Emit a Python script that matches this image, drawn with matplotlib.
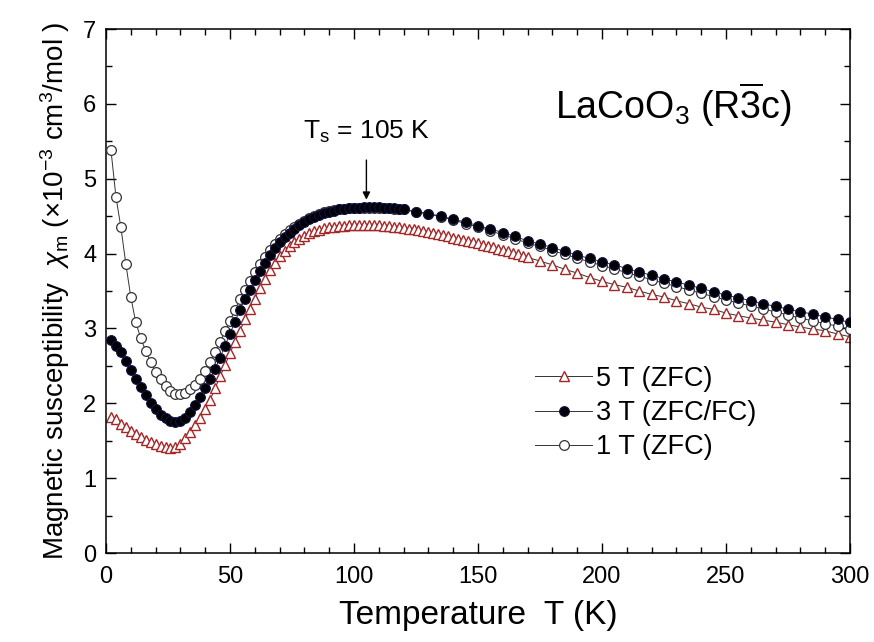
import matplotlib
matplotlib.use("Agg")
import matplotlib.pyplot as plt
from matplotlib.ticker import MultipleLocator

plt.rcParams['font.family'] = ['Liberation Sans', 'DejaVu Sans']
plt.rcParams['mathtext.fontset'] = 'custom'
plt.rcParams['mathtext.rm'] = 'Liberation Sans'
plt.rcParams['mathtext.it'] = 'Liberation Sans:italic'
plt.rcParams['mathtext.bf'] = 'Liberation Sans:bold'

# 5 T (ZFC): dense run up to 170 K, then every 5 K
t_5T = [2, 4, 6, 8, 10, 12, 14, 16, 18, 20, 22, 24, 26, 28, 30, 32, 34, 36, 38, 40,
        42, 44, 46, 48, 50, 52, 54, 56, 58, 60, 62, 64, 66, 68, 70, 72, 74, 76, 78, 80,
        82, 84, 86, 88, 90, 92, 94, 96, 98, 100, 102, 104, 106, 108, 110, 112, 114, 116, 118, 120,
        122, 124, 126, 128, 130, 132, 134, 136, 138, 140, 142, 144, 146, 148, 150, 152, 154, 156, 158, 160,
        162, 164, 166, 168, 170,
        175, 180, 185, 190, 195, 200, 205, 210, 215, 220, 225, 230, 235, 240, 245, 250,
        255, 260, 265, 270, 275, 280, 285, 290, 295, 300]
chi_5T = [1.82, 1.79, 1.72, 1.68, 1.63, 1.59, 1.55, 1.51, 1.48, 1.45, 1.43, 1.41, 1.40, 1.415, 1.46, 1.53, 1.62, 1.71, 1.80, 1.92,
          2.05, 2.20, 2.36, 2.51, 2.67, 2.82, 2.97, 3.12, 3.26, 3.40, 3.54, 3.66, 3.78, 3.88, 3.97, 4.04, 4.10, 4.16, 4.20, 4.24,
          4.27, 4.30, 4.32, 4.34, 4.35, 4.36, 4.37, 4.375, 4.38, 4.38, 4.385, 4.385, 4.385, 4.38, 4.38, 4.375, 4.37, 4.36, 4.355, 4.345,
          4.335, 4.325, 4.315, 4.30, 4.29, 4.275, 4.26, 4.245, 4.23, 4.21, 4.195, 4.18, 4.165, 4.15, 4.135, 4.12, 4.10, 4.085, 4.065, 4.05,
          4.03, 4.01, 3.99, 3.97, 3.95,
          3.90, 3.85, 3.79, 3.74, 3.68, 3.63, 3.585, 3.55, 3.50, 3.455, 3.42, 3.37, 3.33, 3.285, 3.255, 3.205,
          3.17, 3.14, 3.11, 3.085, 3.05, 3.02, 2.99, 2.97, 2.925, 2.89]

# 3 T (ZFC/FC): dense run up to 120 K, then every 5 K
t_3T = [2, 4, 6, 8, 10, 12, 14, 16, 18, 20, 22, 24, 26, 28, 30, 32, 34, 36, 38, 40,
        42, 44, 46, 48, 50, 52, 54, 56, 58, 60, 62, 64, 66, 68, 70, 72, 74, 76, 78, 80,
        82, 84, 86, 88, 90, 92, 94, 96, 98, 100, 102, 104, 106, 108, 110, 112, 114, 116, 118, 120,
        125, 130, 135, 140, 145, 150, 155, 160, 165, 170, 175, 180, 185, 190, 195, 200,
        205, 210, 215, 220, 225, 230, 235, 240, 245, 250, 255, 260, 265, 270, 275, 280,
        285, 290, 295, 300]
chi_3T = [2.85, 2.77, 2.68, 2.57, 2.45, 2.33, 2.22, 2.11, 2.01, 1.92, 1.85, 1.80, 1.76, 1.745, 1.76, 1.81, 1.89, 1.98, 2.09, 2.20,
          2.32, 2.46, 2.61, 2.77, 2.93, 3.09, 3.25, 3.39, 3.52, 3.65, 3.77, 3.88, 3.98, 4.07, 4.15, 4.22, 4.28, 4.33, 4.38, 4.42,
          4.46, 4.49, 4.52, 4.54, 4.56, 4.575, 4.59, 4.60, 4.605, 4.61, 4.615, 4.62, 4.62, 4.62, 4.62, 4.615, 4.61, 4.605, 4.60, 4.595,
          4.56, 4.535, 4.50, 4.46, 4.42, 4.375, 4.33, 4.28, 4.23, 4.17, 4.13, 4.08, 4.03, 3.98, 3.935, 3.89,
          3.85, 3.80, 3.755, 3.71, 3.665, 3.62, 3.58, 3.535, 3.49, 3.445, 3.41, 3.37, 3.33, 3.295, 3.26, 3.225,
          3.19, 3.155, 3.12, 3.08]

# 1 T (ZFC): dense run up to 120 K, then every 5 K
t_1T = [2, 4, 6, 8, 10, 12, 14, 16, 18, 20, 22, 24, 26, 28, 30, 32, 34, 36, 38, 40,
        42, 44, 46, 48, 50, 52, 54, 56, 58, 60, 62, 64, 66, 68, 70, 72, 74, 76, 78, 80,
        82, 84, 86, 88, 90, 92, 94, 96, 98, 100, 102, 104, 106, 108, 110, 112, 114, 116, 118, 120,
        125, 130, 135, 140, 145, 150, 155, 160, 165, 170, 175, 180, 185, 190, 195, 200,
        205, 210, 215, 220, 225, 230, 235, 240, 245, 250, 255, 260, 265, 270, 275, 280,
        285, 290, 295, 300]
chi_1T = [5.38, 4.76, 4.35, 3.86, 3.42, 3.08, 2.87, 2.70, 2.55, 2.42, 2.32, 2.23, 2.17, 2.13, 2.12, 2.14, 2.19, 2.25, 2.33, 2.43,
          2.55, 2.68, 2.82, 2.96, 3.10, 3.25, 3.39, 3.52, 3.64, 3.76, 3.86, 3.96, 4.05, 4.13, 4.20, 4.26, 4.31, 4.36, 4.40, 4.44,
          4.47, 4.50, 4.53, 4.55, 4.57, 4.58, 4.59, 4.60, 4.605, 4.61, 4.61, 4.615, 4.615, 4.615, 4.61, 4.61, 4.605, 4.60, 4.595, 4.59,
          4.555, 4.53, 4.49, 4.45, 4.40, 4.355, 4.305, 4.25, 4.20, 4.14, 4.095, 4.04, 3.99, 3.94, 3.89, 3.84,
          3.795, 3.745, 3.70, 3.65, 3.605, 3.56, 3.515, 3.47, 3.425, 3.38, 3.34, 3.30, 3.26, 3.22, 3.18, 3.14,
          3.10, 3.065, 3.03, 2.99]

fig = plt.figure(figsize=(8.74, 6.42), dpi=100)
ax = fig.add_axes([0.1213, 0.1386, 0.8512, 0.8162])

red = '#a52626'
ax.plot(t_5T, chi_5T, '-', color='#333333', lw=0.7, marker='^', ms=7,
        mfc='white', mec=red, mew=1.0, label='5 T (ZFC)', zorder=2)
ax.plot(t_1T, chi_1T, '-', color='#333333', lw=0.7, marker='o', ms=7,
        mfc='white', mec='#333333', mew=0.9, label='1 T (ZFC)', zorder=3)
ax.plot(t_3T, chi_3T, '-', color='#333333', lw=0.7, marker='o', ms=7,
        mfc='black', mec='#101048', mew=0.8, label='3 T (ZFC/FC)', zorder=4)

ax.set_xlim(0, 300)
ax.set_ylim(0, 7)
ax.xaxis.set_major_locator(MultipleLocator(50))
ax.xaxis.set_minor_locator(MultipleLocator(10))
ax.yaxis.set_major_locator(MultipleLocator(1))
ax.yaxis.set_minor_locator(MultipleLocator(0.5))
ax.tick_params(which='both', direction='in', top=True, right=True, width=1.0)
ax.tick_params(which='major', length=7, labelsize=17)
ax.tick_params(axis='x', which='major', pad=9)
ax.tick_params(axis='y', which='major', pad=7)
ax.tick_params(which='minor', length=4)
for s in ax.spines.values():
    s.set_linewidth(1.1)

ax.set_xlabel('Temperature  T (K)', fontsize=24, labelpad=9)
ax.set_ylabel('Magnetic susceptibility  $\\chi_\\mathrm{m}$ (×10$^{-3}$ cm$^3$/mol )',
              fontsize=20, labelpad=8)

ax.text(0.763, 0.855, 'LaCoO$_3$ (R$\\overline{3}$c)', transform=ax.transAxes,
        fontsize=27, ha='center', va='center')
ax.text(105, 5.62, 'T$_\\mathrm{s}$ = 105 K', ha='center', va='center', fontsize=19)
ax.annotate('', xy=(105, 4.72), xytext=(105, 5.25),
            arrowprops=dict(arrowstyle='-|>', color='black', lw=1.0,
                            mutation_scale=11, shrinkA=0, shrinkB=0))

h, l = ax.get_legend_handles_labels()
order = [0, 2, 1]
ax.legend([h[i] for i in order], [l[i] for i in order], loc='upper left',
          bbox_to_anchor=(0.577, 0.357), frameon=False, fontsize=19.5,
          handlelength=2.1, handletextpad=0.15, labelspacing=0.3, borderaxespad=0,
          borderpad=0)

fig.savefig('out.png', dpi=100)
